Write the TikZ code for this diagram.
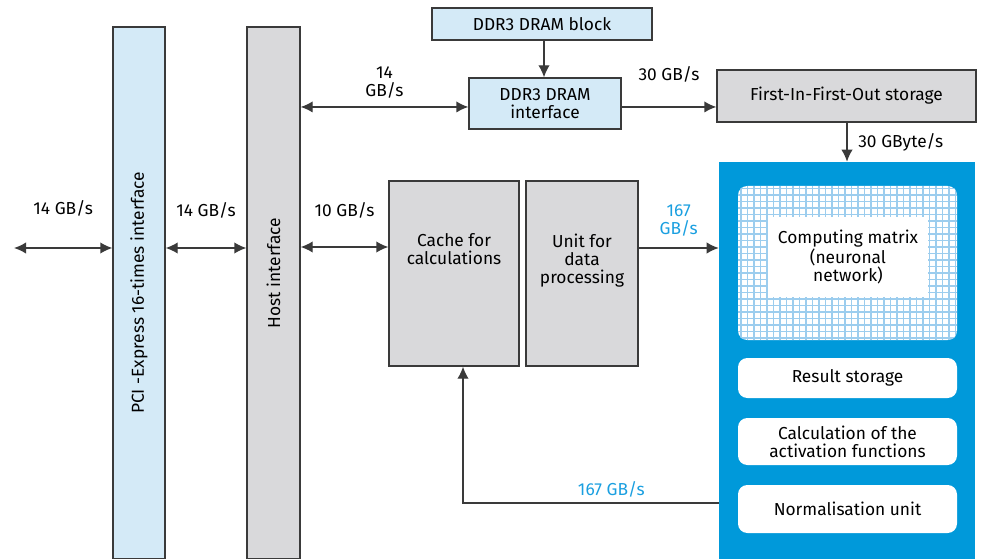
\documentclass[tikz,border=0pt]{standalone}
\usepackage{fontspec}
\setmainfont{Fira Sans}
\usetikzlibrary{positioning, arrows.meta, calc}
\definecolor{lblue}{HTML}{D4EAF7}
\definecolor{lgray}{HTML}{D9D9DB}
\definecolor{edge}{HTML}{3A3A3A}
\definecolor{npublue}{HTML}{0099DA}
\definecolor{gridblue}{HTML}{9CCDEE}
\definecolor{ratecol}{HTML}{1A9FE0}

\begin{document}
\begin{tikzpicture}[x=0.75pt, y=-0.75pt, >={Latex[length=9pt,width=8.5pt]}, font=\fontsize{13}{13.5}\selectfont]
                \tikzset{
                    bluebox/.style={draw=edge, line width=1pt, fill=lblue, align=center, inner sep=0pt},
                    graybox/.style={draw=edge, line width=1pt, fill=lgray, align=center, inner sep=0pt},
                    whitebox/.style={fill=white, rounded corners=7pt, align=center, inner sep=0pt, minimum width=164.25pt},
                    conn/.style={draw=edge, line width=1pt},
                    rate/.style={align=center, inner sep=1pt}
                }
                \useasboundingbox (0,0) rectangle (984,559);

                % INTERFACES
                \node[bluebox, minimum width=39pt, minimum height=399pt] (pci) at (139,293) {};
                \node[rotate=90] at (pci) {PCI -Express 16-times interface};
                \node[graybox, minimum width=39.75pt, minimum height=399pt] (host) at (273.5,293) {};
                \node[rotate=90] at ([yshift=15pt]host) {Host interface};

                % MEMORY
                \node[bluebox, minimum width=165pt, minimum height=24pt] (ddrblk) at (542,24) {DDR3 DRAM block};
                \node[bluebox, minimum width=114pt, minimum height=38.25pt] (ddrif) at (545,103.5) {DDR3 DRAM\\interface};
                \node[graybox, minimum width=194.25pt, minimum height=39pt] (fifo) at (846.5,96) {First-In-First-Out storage};

                % PROCESSING
                \node[graybox, minimum width=97.5pt, minimum height=138.75pt,
                      label={[below=36pt, align=center]north:Cache for\\calculations}] (cache) at (454,273.5) {};
                \node[graybox, minimum width=84pt, minimum height=138.75pt,
                      label={[below=37pt, align=center]north:Unit for\\data\\processing}] (unit) at (582,273.5) {};

                % NEURAL PROCESSING UNIT
                \node[fill=npublue, minimum width=192pt, minimum height=297.75pt, inner sep=0pt] (npu) at (847,360.5) {};
                \node[whitebox, minimum height=115.5pt] (mtxarea) at (847.5,263) {};
                \begin{scope}
                    \clip[rounded corners=7pt] (mtxarea.south west) rectangle (mtxarea.north east);
                    \draw[gridblue, line width=0.8pt, step=4.875pt] (mtxarea.south west) grid (mtxarea.north east);
                \end{scope}
                \node[fill=white, minimum width=120pt, minimum height=60pt, align=center, inner sep=0pt] (cmtx) at (848,257) {Computing matrix\\(neuronal\\network)};
                \node[whitebox, minimum height=30pt] (result) at (847.5,378) {Result storage};
                \node[whitebox, minimum height=35.25pt] (activ) at (847.5,441.5) {Calculation of the\\activation functions};
                \node[whitebox, minimum height=36pt] (norm) at (847.5,509) {Normalisation unit};

                % CONNECTORS
                \coordinate (ext) at (14,248);
                \draw[conn, <->] (ext) -- (ext -| pci.west) node[rate, midway, above=22pt] {14 GB/s};
                \draw[conn, <->] (ext -| pci.east) -- (ext -| host.west) node[rate, midway, above=21pt] {14 GB/s};
                \draw[conn, <->] ([yshift=0.75pt]ext -| host.east) -- ([yshift=0.75pt]ext -| cache.west) node[rate, midway, above=20pt] {10 GB/s};
                \draw[conn, <->] ([yshift=-2.6pt]ddrif.west -| host.east) -- ([yshift=-2.6pt]ddrif.west) node[rate, midway, above=5pt] {14\\GB/s};
                \draw[conn, ->] ([xshift=1.5pt]ddrblk.south) -- ([xshift=-0.75pt]ddrif.north);
                \draw[conn, ->] ([yshift=-2.6pt]ddrif.east) -- ([yshift=-2.6pt]ddrif.east -| fifo.west) node[rate, midway, above=17pt] {30 GB/s};
                \draw[conn, ->] (fifo.south -| npu) -- (npu.north) node[rate, midway, right=7pt] {30 GByte/s};
                \draw[conn, ->] (ext -| unit.east) -- (ext -| npu.west) node[rate, midway, above=7pt, text=ratecol] {167\\GB/s};
                \draw[conn, ->] ([yshift=4.5pt]npu.west |- norm) -| ([xshift=6.75pt]cache.south) node[rate, pos=0.21, above=3pt, text=ratecol] {167 GB/s};

            \end{tikzpicture}
\end{document}
